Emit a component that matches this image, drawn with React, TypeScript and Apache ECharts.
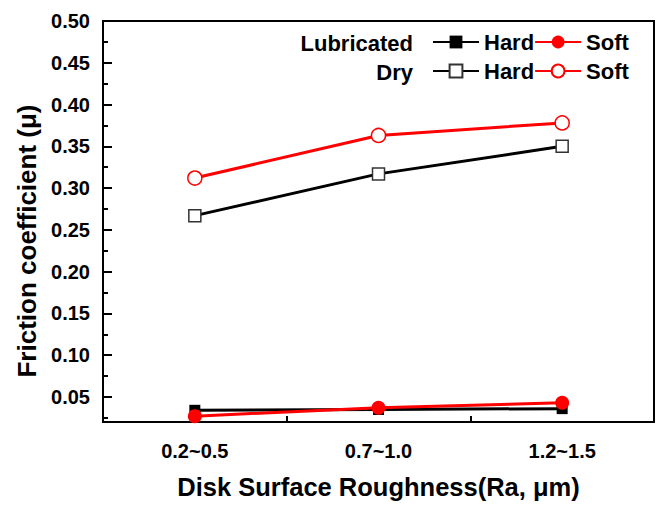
import React, { useEffect, useRef } from 'react';
import * as echarts from 'echarts';

const categories = ['0.2~0.5', '0.7~1.0', '1.2~1.5'];
const lubricatedHard = [0.034, 0.035, 0.036];
const lubricatedSoft = [0.027, 0.037, 0.043];
const dryHard = [0.267, 0.317, 0.35];
const drySoft = [0.312, 0.363, 0.378];
const yMajorTicks = [0.05, 0.1, 0.15, 0.2, 0.25, 0.3, 0.35, 0.4, 0.45, 0.5];
const yMinorTicks = [0.025, 0.075, 0.125, 0.175, 0.225, 0.275, 0.325, 0.375, 0.425, 0.475];
const yMin = 0.02;
const yMax = 0.5;

const FONT = '"Liberation Sans", Arial, sans-serif';

export default function App() {
  const ref = useRef<HTMLDivElement>(null);
  useEffect(() => {
    if (!ref.current) return;
    const chart = echarts.init(ref.current, undefined, { renderer: 'svg' });
    const legendText = { fontFamily: FONT, fontWeight: 'bold', fontSize: 22, color: '#000' };
    chart.setOption({
      animation: false,
      backgroundColor: '#fff',
      grid: {
        left: 103, top: 21, right: 6, bottom: 75,
        show: true, borderColor: '#000', borderWidth: 2, backgroundColor: 'transparent',
      },
      legend: [
        {
          data: ['Lubricated Hard', 'Lubricated Soft'],
          left: 432, top: 31, padding: 0, itemGap: 0, itemWidth: 46, itemHeight: 16,
          selectedMode: false,
          formatter: (n: string) => n.split(' ')[1],
          textStyle: legendText,
        },
        {
          data: ['Dry Hard', 'Dry Soft'],
          left: 432, top: 60, padding: 0, itemGap: 0, itemWidth: 46, itemHeight: 16,
          selectedMode: false,
          formatter: (n: string) => n.split(' ')[1],
          textStyle: legendText,
        },
      ],
      graphic: [
        {
          type: 'text', x: 413, y: 43,
          style: { text: 'Lubricated', align: 'right', verticalAlign: 'middle', font: `bold 22px ${FONT}`, fill: '#000' },
        },
        {
          type: 'text', x: 413, y: 72,
          style: { text: 'Dry', align: 'right', verticalAlign: 'middle', font: `bold 22px ${FONT}`, fill: '#000' },
        },
        {
          type: 'text', x: 27, y: 241, rotation: Math.PI / 2,
          style: { text: 'Friction coefficient (μ)', align: 'center', verticalAlign: 'middle', font: `bold 26px ${FONT}`, fill: '#000' },
        },
      ],
      xAxis: {
        type: 'category',
        data: categories,
        boundaryGap: true,
        name: 'Disk Surface Roughness(Ra, μm)',
        nameLocation: 'middle',
        nameGap: 52,
        nameTextStyle: { fontFamily: FONT, fontWeight: 'bold', fontSize: 25.5, color: '#000' },
        axisLine: { show: true, lineStyle: { color: '#000', width: 2 } },
        axisTick: { show: true, inside: true, length: 6, lineStyle: { color: '#000', width: 2 } },
        axisLabel: { margin: 19, fontFamily: FONT, fontWeight: 'bold', fontSize: 20, color: '#000' },
        splitLine: { show: false },
      },
      yAxis: [
        {
          type: 'value', min: yMin, max: yMax, position: 'left',
          axisLine: { show: true, lineStyle: { color: '#000', width: 2 } },
          axisTick: { show: true, inside: true, length: 9, customValues: yMajorTicks, lineStyle: { color: '#000', width: 2 } },
          axisLabel: {
            margin: 13, customValues: yMajorTicks,
            formatter: (v: number) => v.toFixed(2),
            fontFamily: FONT, fontWeight: 'bold', fontSize: 20, color: '#000',
          },
          splitLine: { show: false },
        },
        {
          type: 'value', min: yMin, max: yMax, position: 'left',
          axisLine: { show: false },
          axisTick: { show: true, inside: true, length: 5, customValues: yMinorTicks, lineStyle: { color: '#000', width: 2 } },
          axisLabel: { show: false },
          splitLine: { show: false },
        },
      ],
      series: [
        {
          name: 'Lubricated Hard', type: 'line', data: lubricatedHard, yAxisIndex: 0,
          symbol: 'rect', symbolSize: 11, z: 3,
          itemStyle: { color: '#000' }, lineStyle: { color: '#000', width: 3 },
        },
        {
          name: 'Lubricated Soft', type: 'line', data: lubricatedSoft, yAxisIndex: 0,
          symbol: 'circle', symbolSize: 14, z: 4,
          itemStyle: { color: '#ff0000' }, lineStyle: { color: '#ff0000', width: 3 },
        },
        {
          name: 'Dry Hard', type: 'line', data: dryHard, yAxisIndex: 0,
          symbol: 'rect', symbolSize: 12, z: 3,
          itemStyle: { color: '#fff', borderColor: '#333', borderWidth: 1.5 },
          lineStyle: { color: '#000', width: 3 },
        },
        {
          name: 'Dry Soft', type: 'line', data: drySoft, yAxisIndex: 0,
          symbol: 'circle', symbolSize: 14, z: 4,
          itemStyle: { color: '#fff', borderColor: '#ff0000', borderWidth: 1.5 },
          lineStyle: { color: '#ff0000', width: 3 },
        },
      ],
    });
    return () => chart.dispose();
  }, []);
  return <div ref={ref} style={{ position: 'absolute', left: 0, top: 0, width: 660, height: 505 }} />;
}
